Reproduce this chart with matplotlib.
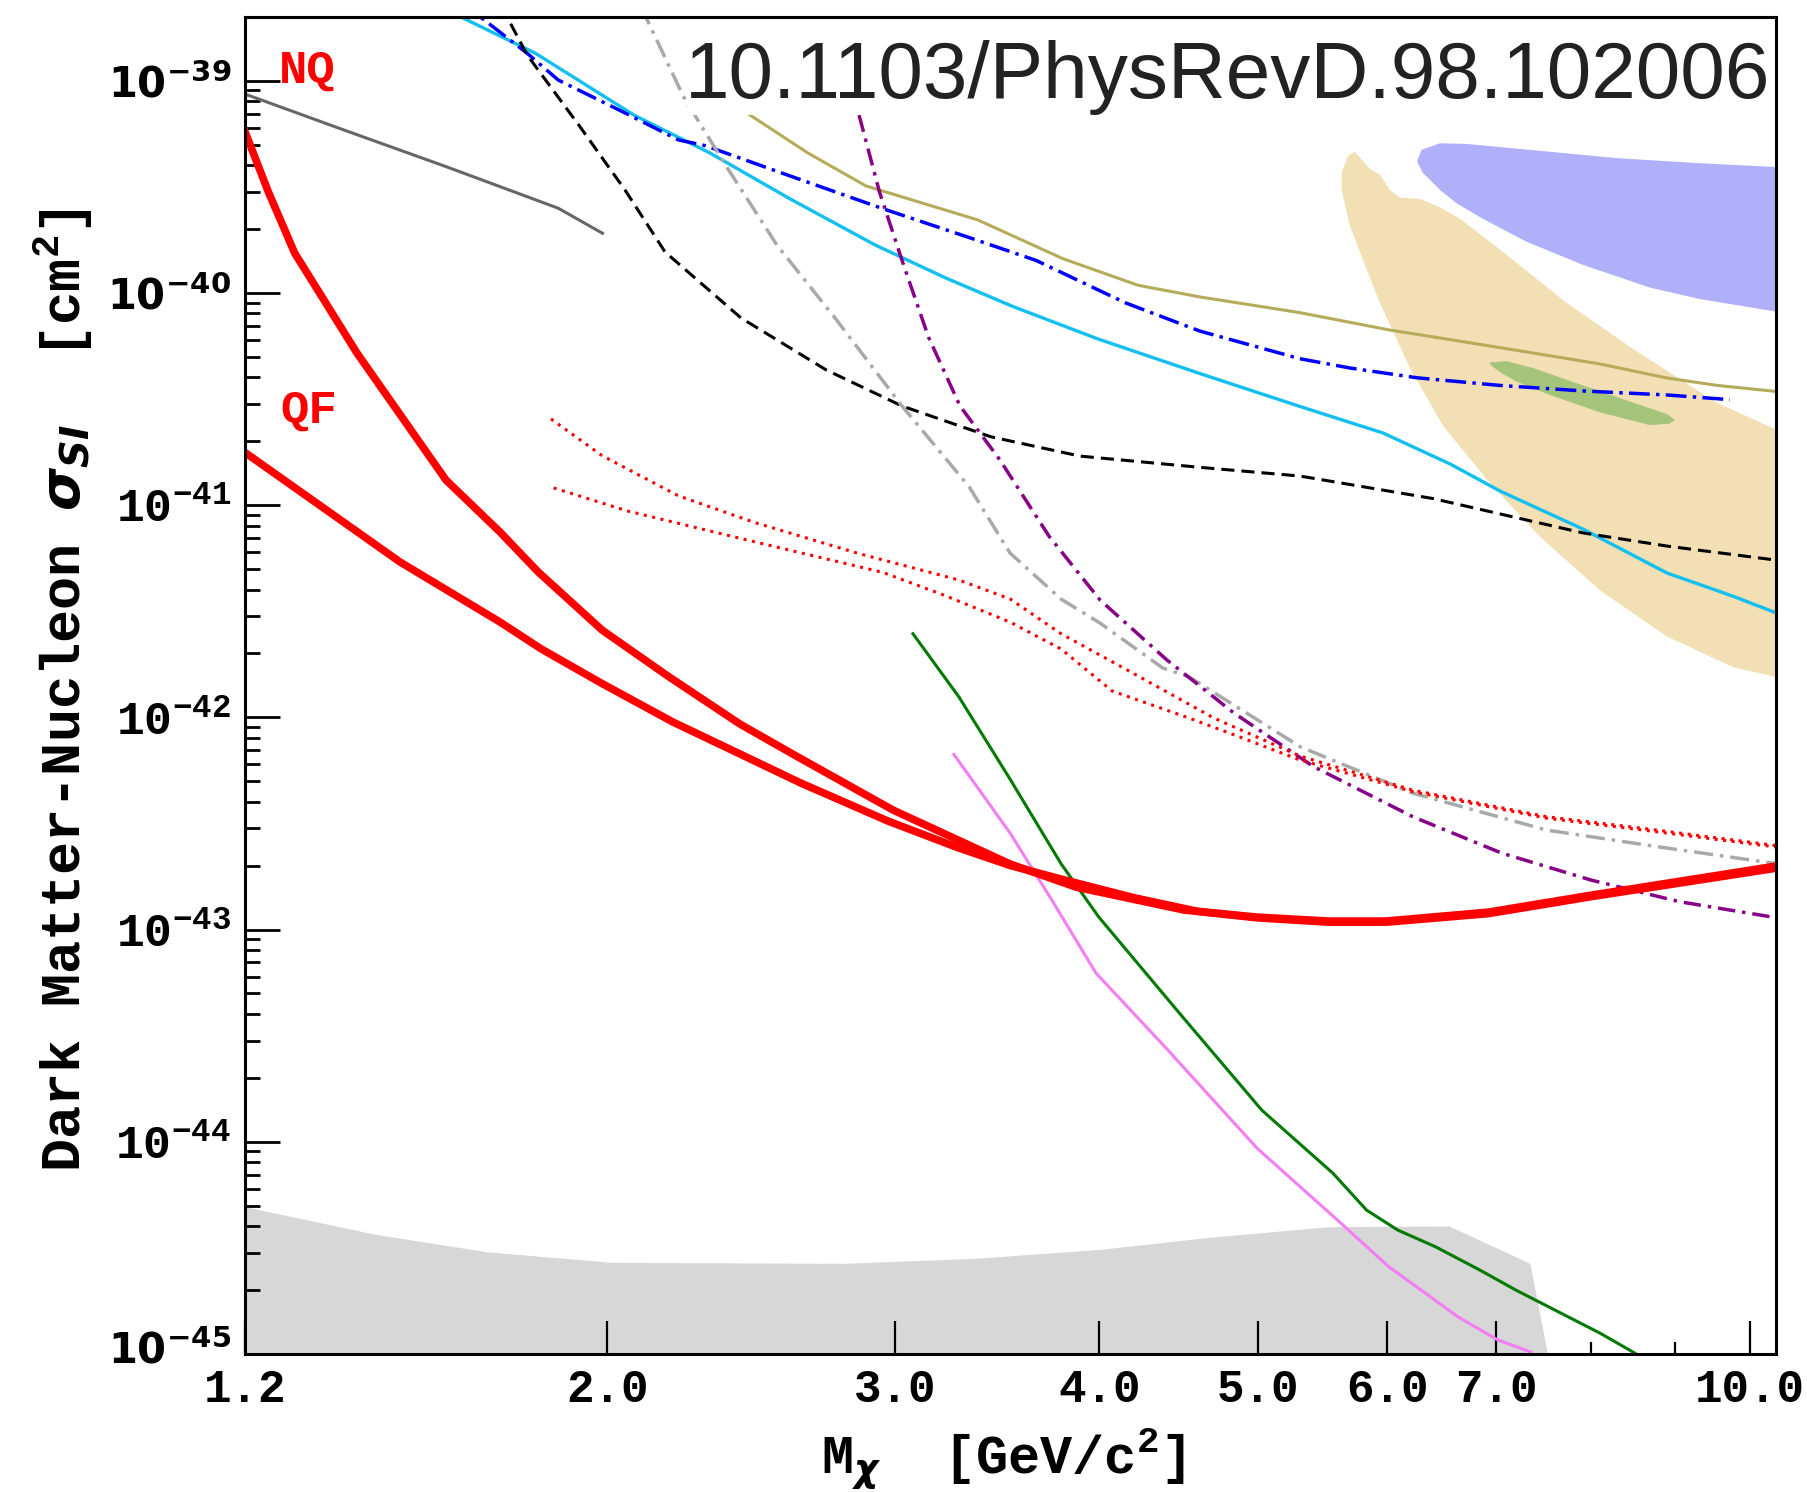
import numpy as np
import matplotlib.pyplot as plt
from matplotlib.patches import Rectangle
from matplotlib.transforms import ScaledTranslation
from matplotlib.ticker import FixedLocator, NullFormatter, FuncFormatter

plt.rcParams['font.family'] = 'Liberation Mono'
plt.rcParams['font.weight'] = 'bold'
plt.rcParams['mathtext.fontset'] = 'custom'
plt.rcParams['mathtext.rm'] = 'Liberation Mono:bold'
plt.rcParams['mathtext.bf'] = 'Liberation Mono:bold'
plt.rcParams['mathtext.it'] = 'DejaVu Sans:bold:italic'

# --- limits: mass [GeV/c^2], log10(sigma_SI / cm^2) ---
nq_mass = [1.20, 1.24, 1.287, 1.405, 1.593, 1.719, 1.814, 1.985, 2.178, 2.411, 2.609,
           2.991, 3.527, 3.871, 4.507, 4.989, 5.52, 5.99, 6.92, 8.0, 10.4]
nq_logsig = [-39.24, -39.523, -39.812, -40.283, -40.882, -41.127, -41.315, -41.589, -41.806,
             -42.032, -42.182, -42.437, -42.691, -42.800, -42.908, -42.941, -42.960, -42.960,
             -42.918, -42.838, -42.70]

qf_mass = [1.20, 1.493, 1.719, 1.822, 1.985, 2.193, 2.411, 2.627, 2.970, 3.282, 3.527, 3.79,
           4.2, 4.6, 5.0, 5.52, 6.0, 6.92, 8.0, 10.4]
qf_logsig = [-40.752, -41.268, -41.551, -41.678, -41.841, -42.022, -42.173, -42.310, -42.489,
             -42.616, -42.698, -42.762, -42.85, -42.915, -42.945, -42.965, -42.965, -42.925,
             -42.845, -42.71]

dot_hi_mass = [1.847, 1.985, 2.210, 2.461, 2.843, 3.282, 3.527, 3.79, 4.224, 4.70, 5.306,
               6.22, 7.51, 8.79, 10.4]
dot_hi_logsig = [-40.594, -40.767, -40.956, -41.082, -41.226, -41.353, -41.442, -41.606,
                 -41.805, -42.003, -42.182, -42.343, -42.468, -42.532, -42.605]
dot_lo_mass = [1.854, 2.058, 2.461, 2.948, 3.213, 3.527, 3.79, 4.073, 4.538, 4.877, 5.306,
               6.22, 7.51, 8.79, 10.4]
dot_lo_logsig = [-40.919, -41.028, -41.173, -41.317, -41.424, -41.551, -41.678, -41.876,
                 -42.003, -42.093, -42.201, -42.350, -42.475, -42.540, -42.612]

gray_mass = [1.2, 1.370, 1.593, 1.866, 1.986]
gray_logsig = [-39.063, -39.224, -39.405, -39.601, -39.719]

cyan_mass = [1.58, 1.633, 1.807, 2.076, 2.311, 2.587, 2.916, 3.222, 3.541, 3.992, 4.609,
             5.306, 5.965, 6.557, 7.033, 7.908, 8.902, 9.768, 10.4]
cyan_logsig = [-38.65, -38.706, -38.871, -39.162, -39.341, -39.557, -39.774, -39.930, -40.064,
               -40.217, -40.380, -40.535, -40.660, -40.806, -40.933, -41.113, -41.320, -41.429,
               -41.51]

blue_mass = [1.62, 1.676, 1.786, 1.866, 2.050, 2.210, 2.295, 2.587, 2.953, 3.329, 3.659,
             4.147, 4.609, 5.306, 5.695, 6.259, 7.033, 7.908, 8.902, 9.726]
blue_logsig = [-38.64, -38.706, -38.871, -38.997, -39.152, -39.279, -39.306, -39.449, -39.605,
               -39.739, -39.847, -40.046, -40.180, -40.310, -40.354, -40.400, -40.436, -40.462,
               -40.481, -40.503]

black_mass = [1.72, 1.740, 1.786, 1.924, 2.050, 2.169, 2.414, 2.722, 3.029, 3.433, 3.892,
              4.609, 5.306, 6.40, 7.369, 7.908, 8.902, 10.4]
black_logsig = [-38.65, -38.714, -38.879, -39.217, -39.515, -39.807, -40.118, -40.363, -40.533,
                -40.678, -40.769, -40.822, -40.863, -40.969, -41.077, -41.131, -41.193, -41.26]

lgray_mass = [2.10, 2.114, 2.225, 2.353, 2.539, 2.756, 3.029, 3.329, 3.527, 3.79, 4.004,
              4.375, 4.538, 5.31, 6.22, 7.51, 8.79, 10.4]
lgray_logsig = [-38.65, -38.709, -39.072, -39.378, -39.774, -40.118, -40.533, -40.913, -41.226,
                -41.443, -41.556, -41.768, -41.809, -42.139, -42.357, -42.531, -42.610, -42.69]

purple_mass = [2.851, 2.934, 3.029, 3.144, 3.287, 3.477, 3.726, 4.004, 4.40, 4.836, 5.412,
               6.22, 7.053, 8.0, 9.063, 10.4]
purple_logsig = [-39.162, -39.523, -39.847, -40.208, -40.533, -40.787, -41.146, -41.447, -41.730,
                 -41.980, -42.233, -42.468, -42.640, -42.767, -42.869, -42.945]

olive_mass = [2.445, 2.653, 2.879, 3.370, 3.798, 4.224, 4.609, 5.306, 6.024, 6.557, 7.369,
              8.101, 8.902, 9.553, 10.4]
olive_logsig = [-39.162, -39.341, -39.496, -39.656, -39.838, -39.964, -40.019, -40.093, -40.175,
                -40.220, -40.283, -40.335, -40.401, -40.436, -40.465]

green_mass = [3.076, 3.282, 3.527, 3.79, 3.996, 4.461, 5.029, 5.559, 5.829, 6.091, 6.425,
              6.840, 7.195, 8.101, 8.508]
green_logsig = [-41.606, -41.904, -42.291, -42.690, -42.940, -43.379, -43.851, -44.148, -44.322,
                -44.416, -44.495, -44.605, -44.699, -44.902, -44.996]

pink_mass = [3.259, 3.527, 3.741, 3.981, 4.406, 4.995, 5.595, 6.015, 6.631, 7.014, 7.349]
pink_logsig = [-42.175, -42.545, -42.861, -43.205, -43.568, -44.030, -44.369, -44.589, -44.825,
               -44.934, -44.991]

# neutrino floor
floor_mass = [1.2, 1.440, 1.686, 2.010, 2.787, 3.361, 4.004, 4.662, 5.525, 6.549, 7.338, 7.522]
floor_logsig = [-44.306, -44.435, -44.518, -44.568, -44.573, -44.549, -44.507, -44.451, -44.400,
                -44.397, -44.573, -45.0]

# signal regions (closed contours)
tan_mass = [5.734, 5.680, 5.628, 5.628, 5.695, 5.940, 6.197, 6.492, 6.936, 7.443, 8.101, 8.902,
            9.768, 10.38, 10.38, 9.546, 8.484, 7.731, 7.033, 6.649, 6.465, 6.285, 6.110, 6.024,
            5.940, 5.857]
tan_logsig = [-39.335, -39.353, -39.434, -39.515, -39.687, -40.048, -40.354, -40.626, -40.896,
              -41.149, -41.402, -41.619, -41.763, -41.810, -40.644, -40.517, -40.264, -40.048,
              -39.795, -39.651, -39.597, -39.557, -39.551, -39.515, -39.443, -39.416]

violet_mass = [6.465, 6.299, 6.259, 6.310, 6.465, 6.618, 6.868, 7.304, 7.908, 8.690, 9.326,
               10.38, 10.38, 9.326, 8.293, 7.548, 6.711]
violet_logsig = [-39.295, -39.326, -39.380, -39.434, -39.515, -39.578, -39.651, -39.759, -39.868,
                 -39.975, -40.029, -40.088, -39.407, -39.389, -39.365, -39.335, -39.298]

blob_mass = [6.936, 7.100, 7.369, 7.908, 8.484, 8.902, 9.001, 8.937, 8.690, 8.101, 7.548,
             7.2, 7.033, 6.936]
blob_logsig = [-40.328, -40.322, -40.354, -40.436, -40.517, -40.571, -40.599, -40.616, -40.623,
               -40.563, -40.481, -40.418, -40.373, -40.337]

xtick_vals = [1.2, 2.0, 3.0, 4.0, 5.0, 6.0, 7.0, 10.0]
xtick_labels = ['1.2', '2.0', '3.0', '4.0', '5.0', '6.0', '7.0', '10.0']
ytick_exp = [-45, -44, -43, -42, -41, -40, -39]
sans_exp = [-45, -40, -39]


def sig(a):
    return 10.0 ** np.asarray(a)


fig = plt.figure(figsize=(18.08, 14.92), dpi=100)
ax = fig.add_axes([0.1355, 0.0925, 0.8468, 0.8961])
ax.set_xscale('log')
ax.set_yscale('log')

ax.fill_between(floor_mass, sig(floor_logsig), 1e-45, color='#d7d7d7', lw=0, zorder=1)
ax.fill(tan_mass, sig(tan_logsig), color='#f2dfb3', lw=0, zorder=1)
ax.fill(violet_mass, sig(violet_logsig), color='#afaffa', lw=0, zorder=1)
ax.fill(blob_mass, sig(blob_logsig), color='#a3c47a', lw=0, zorder=1.1)

ax.plot(gray_mass, sig(gray_logsig), color='#666666', lw=2.2)
ax.plot(olive_mass, sig(olive_logsig), color='#b5ab5a', lw=2.2)
ax.plot(cyan_mass, sig(cyan_logsig), color='#12bff0', lw=2.4)
ax.plot(blue_mass, sig(blue_logsig), color='#0000ff', lw=2.5, ls=(0, (6, 1.8, 1, 1.8)))
ax.plot(black_mass, sig(black_logsig), color='black', lw=2.2, ls=(0, (4.3, 2.3)))
ax.plot(lgray_mass, sig(lgray_logsig), color='#a9a9a9', lw=2.5, ls=(0, (5.5, 2, 1, 2)))
ax.plot(purple_mass, sig(purple_logsig), color='#880088', lw=2.5, ls=(0, (5, 2, 1, 2)))
ax.plot(green_mass, sig(green_logsig), color='#007a00', lw=2.2)
ax.plot(pink_mass, sig(pink_logsig), color='#f47ef4', lw=2.2)
ax.plot(dot_hi_mass, sig(dot_hi_logsig), color='red', lw=2.2, ls=(0, (1, 1.8)))
ax.plot(dot_lo_mass, sig(dot_lo_logsig), color='red', lw=2.2, ls=(0, (1, 1.8)))
ax.plot(qf_mass, sig(qf_logsig), color='red', lw=5.5)
ax.plot(nq_mass, sig(nq_logsig), color='red', lw=5.5)

ax.text(1.258, 10 ** -39.01, 'NQ', color='red', fontsize=34, va='baseline')
ax.text(1.262, 10 ** -40.613, 'QF', color='red', fontsize=34, va='baseline')

ax.set_xlim(1.2, 10.38)
ax.set_ylim(1e-45, 10 ** -38.70)

ax.xaxis.set_major_locator(FixedLocator(xtick_vals))
ax.set_xticklabels(xtick_labels)
ax.xaxis.set_minor_locator(FixedLocator([8.0, 9.0]))
ax.xaxis.set_minor_formatter(NullFormatter())
ax.yaxis.set_major_locator(FixedLocator([10.0 ** e for e in ytick_exp]))
ax.yaxis.set_minor_locator(FixedLocator([m * 10.0 ** e for e in ytick_exp[:-1]
                                         for m in range(2, 10)]))
ax.yaxis.set_minor_formatter(NullFormatter())
ax.yaxis.set_major_formatter(FuncFormatter(
    lambda v, p: r'$10^{%d}$' % int(round(np.log10(v)))))

ax.tick_params(which='both', direction='in', top=False, right=False)
ax.tick_params(axis='y', which='major', length=25, width=2, labelsize=33.5, pad=10)
ax.tick_params(axis='y', which='minor', length=11, width=2)
ax.tick_params(axis='x', which='major', length=24, width=1.6, labelsize=33, pad=10)
ax.tick_params(axis='x', which='minor', length=9, width=1.6)
# the top two and the bottom decade labels are set in a plain sans face
for e, lab in zip(ytick_exp, ax.get_yticklabels()):
    if e in sans_exp:
        lab.set_math_fontfamily('dejavusans')
        lab.set_fontweight('normal')
        lab.set_fontsize(30)
    if e == -45:
        lab.set_transform(lab.get_transform() + ScaledTranslation(0, 5 / 72, fig.dpi_scale_trans))
for s in ax.spines.values():
    s.set_linewidth(2.2)
    s.set_zorder(6)

# white box behind the DOI stamp
ax.add_patch(Rectangle((0.2894, 0.9267), 0.72, 0.08, transform=ax.transAxes,
                       facecolor='white', edgecolor='none', zorder=5))
fig.text(1770 / 1808, 1 - 97.7 / 1492, '10.1103/PhysRevD.98.102006', ha='right', va='baseline',
         fontsize=57.7, color='#222222', family='Liberation Sans', weight='normal', zorder=7)

fig.text(63 / 1808, 1 - 690 / 1492, r'Dark Matter-Nucleon $\sigma_{SI}$  [cm$^2$]',
         rotation=90, ha='center', va='center', fontsize=39.7)
fig.text(1003 / 1808, 1 - 1474 / 1492, r'M$_{\chi}$  [GeV/c$^2$]',
         ha='center', va='baseline', fontsize=38.5)

fig.savefig('out.png', dpi=100)
